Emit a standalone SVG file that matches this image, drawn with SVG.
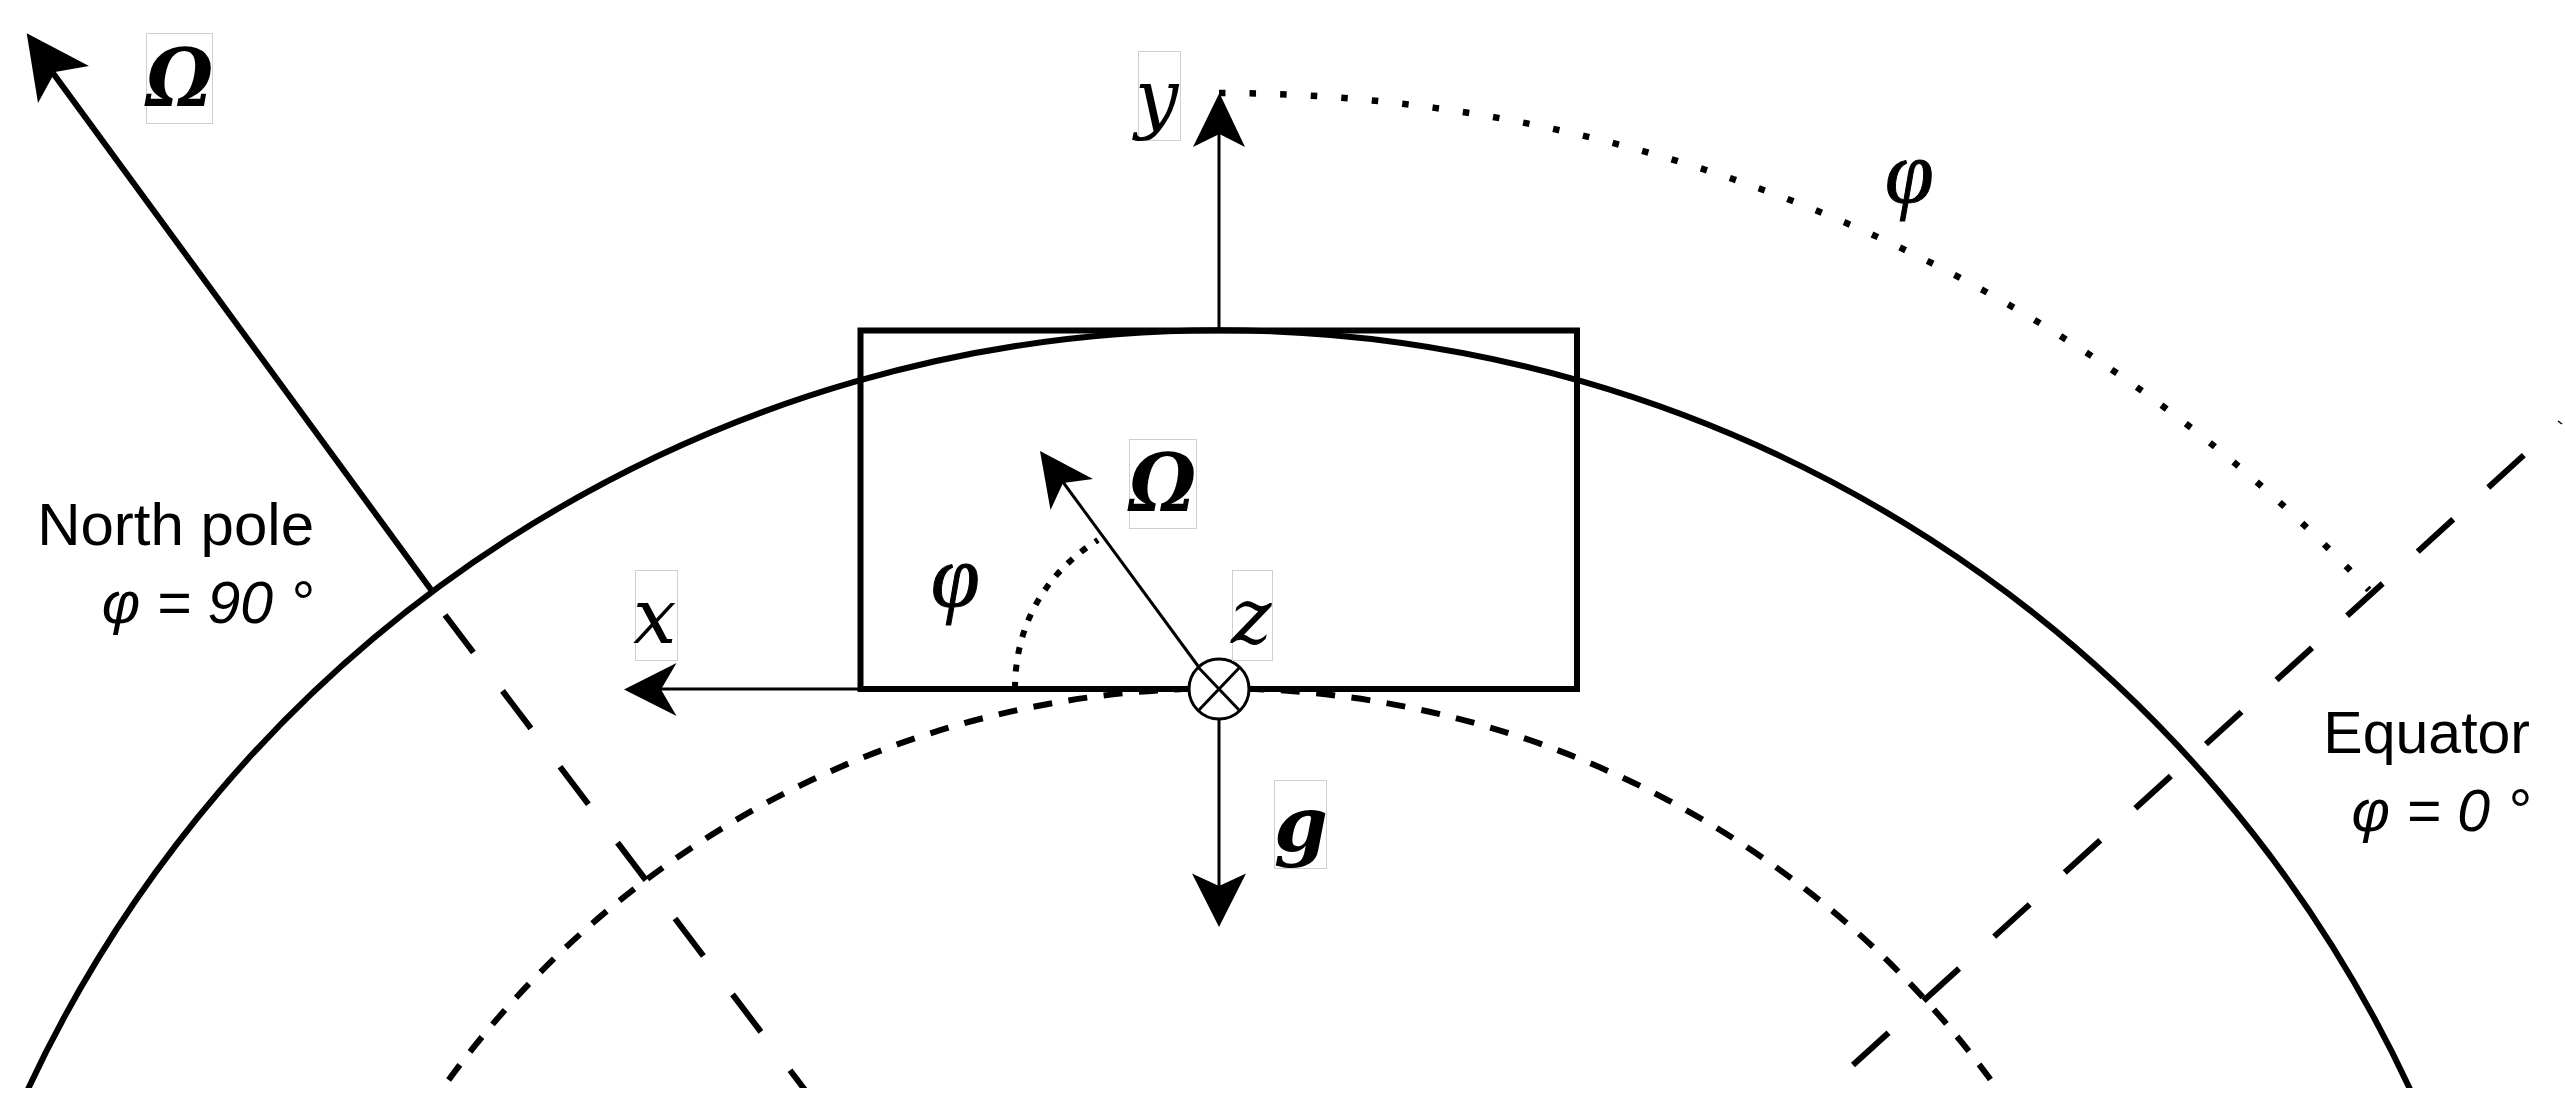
<svg xmlns="http://www.w3.org/2000/svg" width="2565" height="1118" viewBox="0 0 2565 1118">
<style>
.thick{fill:none;stroke:#000;stroke-width:6}
.thin{fill:none;stroke:#000;stroke-width:3}
.head{fill:#000;stroke:none}
.box{fill:#fff;stroke:#cfcfcf;stroke-width:1}
.sym{font-family:"DejaVu Serif",serif;font-style:italic;font-size:77px;fill:#000}
.phi{font-family:"Liberation Serif",serif;font-style:italic;font-size:88px;fill:#000;stroke:#000;stroke-width:1}
.bold{font-weight:bold}
.lab{font-family:"Liberation Sans",Arial,sans-serif;font-size:59px;fill:#000;text-anchor:end}
.it{font-style:italic}
</style>
<defs><clipPath id="c"><rect x="0" y="0" width="2565" height="1088"/></clipPath></defs>
<rect width="2565" height="1118" fill="#fff"/>
<g id="connectors">
<g clip-path="url(#c)">
<path id="inner-arc" class="thick" stroke-dasharray="19 16.5" d="M448.6,1080 A955,955 0 0 1 1998,1090"/>
<path id="outer-arc" class="thick" d="M23,1100 A1314,1314 0 0 1 2415,1100"/>
<path id="pole-dash" class="thick" stroke-dasharray="47 48.2" d="M445,615 L805,1090"/>
</g>
<path id="equator-dash" class="thick" stroke-dasharray="48 47.4" d="M1853,1065 L2524,455"/>
<path class="thin" style="stroke-width:1.5" d="M2558,421 L2562,424"/>
<path id="pole-axis" class="thick" d="M432,591 L50,69"/>
<polygon class="head" points="26.7,33.3 89,66 55,72 38,103"/>
<path id="phi-arc-large" class="thick" style="stroke-width:6.5" stroke-dasharray="6.5 24.1" d="M1219,93 A1580,1580 0 0 1 2369,590"/>
<path id="phi-arc-small" class="thick" stroke-dasharray="7 10.5" d="M1015,689 C1015,620 1050,570 1098,540"/>
<path id="y-axis" class="thin" d="M1219,330 V130"/>
<polygon class="head" points="1219.4,93 1245,147 1219.4,134 1193,147"/>
<path id="x-axis" class="thin" d="M861,689 H655"/>
<polygon class="head" points="624,689.5 676.5,663 661,689.5 676.5,716"/>
<path id="g-axis" class="thin" d="M1219,719 V890"/>
<polygon class="head" points="1219,927 1192,873.5 1219,886 1246,873.5"/>
<path id="omega-axis" class="thin" d="M1198,666 L1060,478"/>
<polygon class="head" points="1040,451 1093,479 1063,483 1050.5,510"/>
</g>
<g id="frame"><rect class="thick" x="860.5" y="330.5" width="716.5" height="358.5"/></g>
<g id="z-marker">
<circle cx="1219" cy="689" r="30" fill="#fff" stroke="#000" stroke-width="3"/>
<path class="thin" d="M1198,667 L1240,711 M1240,667 L1198,711"/>
</g>
<g id="label-omega-top"><rect class="box" x="146.5" y="33.5" width="66" height="90"/><text class="sym bold" transform="translate(146,106) scale(0.98,1.05)">Ω</text></g>
<g id="label-omega"><rect class="box" x="1129.5" y="439.5" width="67" height="89"/><text class="sym bold" transform="translate(1129,511) scale(0.98,1.05)">Ω</text></g>
<g id="label-x"><rect class="box" x="635.5" y="570.5" width="42" height="90"/><text class="sym" x="633" y="643">x</text></g>
<g id="label-y"><rect class="box" x="1138.5" y="51.5" width="42" height="89"/><text class="sym" x="1135" y="124">y</text></g>
<g id="label-z"><rect class="box" x="1232.5" y="570.5" width="40" height="90"/><text class="sym" x="1231" y="643">z</text></g>
<g id="label-g"><rect class="box" x="1274.5" y="780.5" width="52" height="88"/><text class="sym bold" x="1274" y="851">g</text></g>
<g id="label-phi-1"><text class="phi" x="931" y="606">φ</text></g>
<g id="label-phi-2"><text class="phi" x="1885" y="202">φ</text></g>
<g id="label-north"><text class="lab" style="font-size:60px" x="314" y="545">North pole</text><text class="lab it" x="313" y="623">φ = 90 °</text></g>
<g id="label-equator"><text class="lab" x="2530" y="753">Equator</text><text class="lab it" x="2530" y="831">φ = 0 °</text></g>
</svg>
